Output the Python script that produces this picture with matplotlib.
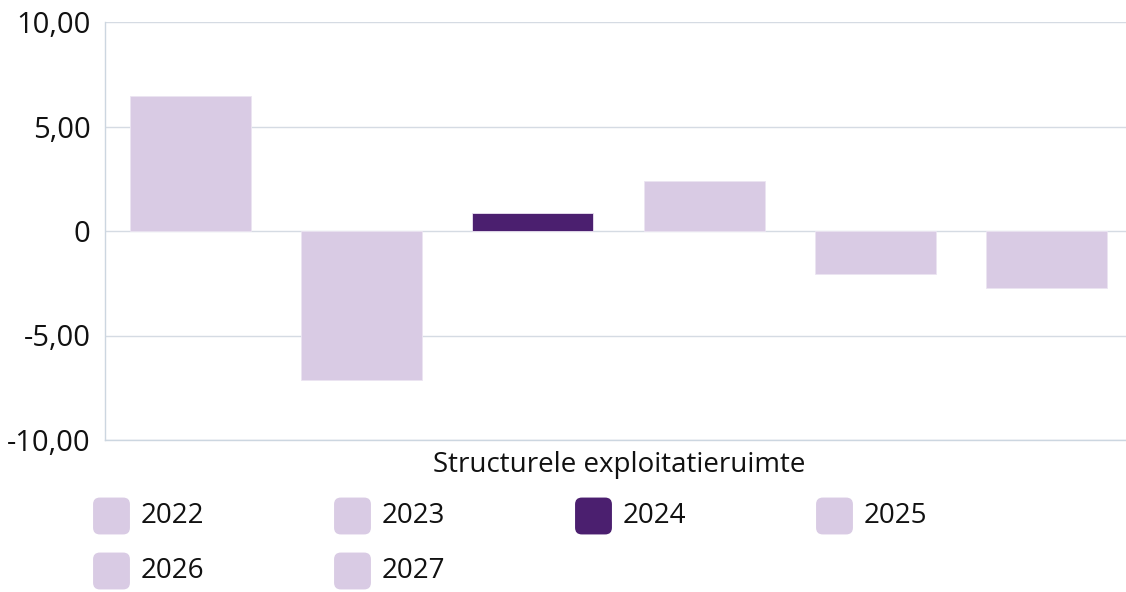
import matplotlib
matplotlib.use("Agg")
from matplotlib import pyplot as plt
from matplotlib.patches import FancyBboxPatch
import numpy as np

plt.rcParams['font.family'] = ['Open Sans', 'DejaVu Sans']

years = ["2022", "2023", "2024", "2025", "2026", "2027"]
values = [6.45, -7.15, 0.86, 2.37, -2.04, -2.74]
category = "Structurele exploitatieruimte"
yticks = [-10, -5, 0, 5, 10]
ytick_labels = ["-10,00", "-5,00", "0", "5,00", "10,00"]

light = "#d9cbe4"
dark = "#4b1f6f"
colors = [dark if y == "2024" else light for y in years]

W, H = 1126, 592
fig = plt.figure(figsize=(W / 100, H / 100), dpi=100)
ax = fig.add_axes([104.5 / W, (H - 440) / H, (1132.5 - 104.5) / W, (440 - 22) / H])

n = len(values)
x = np.arange(n)
ax.bar(x, values, width=0.706, color=colors, edgecolor="#ece4f2", linewidth=0.6, zorder=3)

ax.set_xlim(-0.5, n - 0.5)
ax.set_ylim(-10, 10)
ax.set_yticks(yticks)
ax.set_yticklabels(ytick_labels)
ax.set_xticks([])
ax.tick_params(axis="y", length=0, pad=10, labelsize=21, labelcolor="#111111")
ax.grid(axis="y", color="#d5dbe3", linewidth=1, zorder=0)
for side in ["top", "right"]:
    ax.spines[side].set_visible(False)
for side in ["left", "bottom"]:
    ax.spines[side].set_color("#ccd6e0")
    ax.spines[side].set_linewidth(1)

fig.text(619 / W, 1 - 465 / H, category, ha="center", va="center",
         fontsize=20, color="#111111")

# legend laid out in rows of four, rounded swatches
col_x = [93, 334, 575, 816]
row_y = [516, 571]
sw = 37
for i, (yr, c) in enumerate(zip(years, colors)):
    cx = col_x[i % 4]
    cy = row_y[i // 4]
    box = FancyBboxPatch(((cx + 4) / W, 1 - (cy + sw / 2 - 4) / H),
                         (sw - 8) / W, (sw - 8) / H,
                         boxstyle="round,pad=0.0035,rounding_size=0.006",
                         transform=fig.transFigure, facecolor=c, edgecolor="none",
                         mutation_aspect=W / H)
    fig.add_artist(box)
    fig.text((cx + sw + 11) / W, 1 - cy / H, yr, ha="left", va="center",
             fontsize=20, color="#111111")

fig.savefig("out.png", dpi=100)
